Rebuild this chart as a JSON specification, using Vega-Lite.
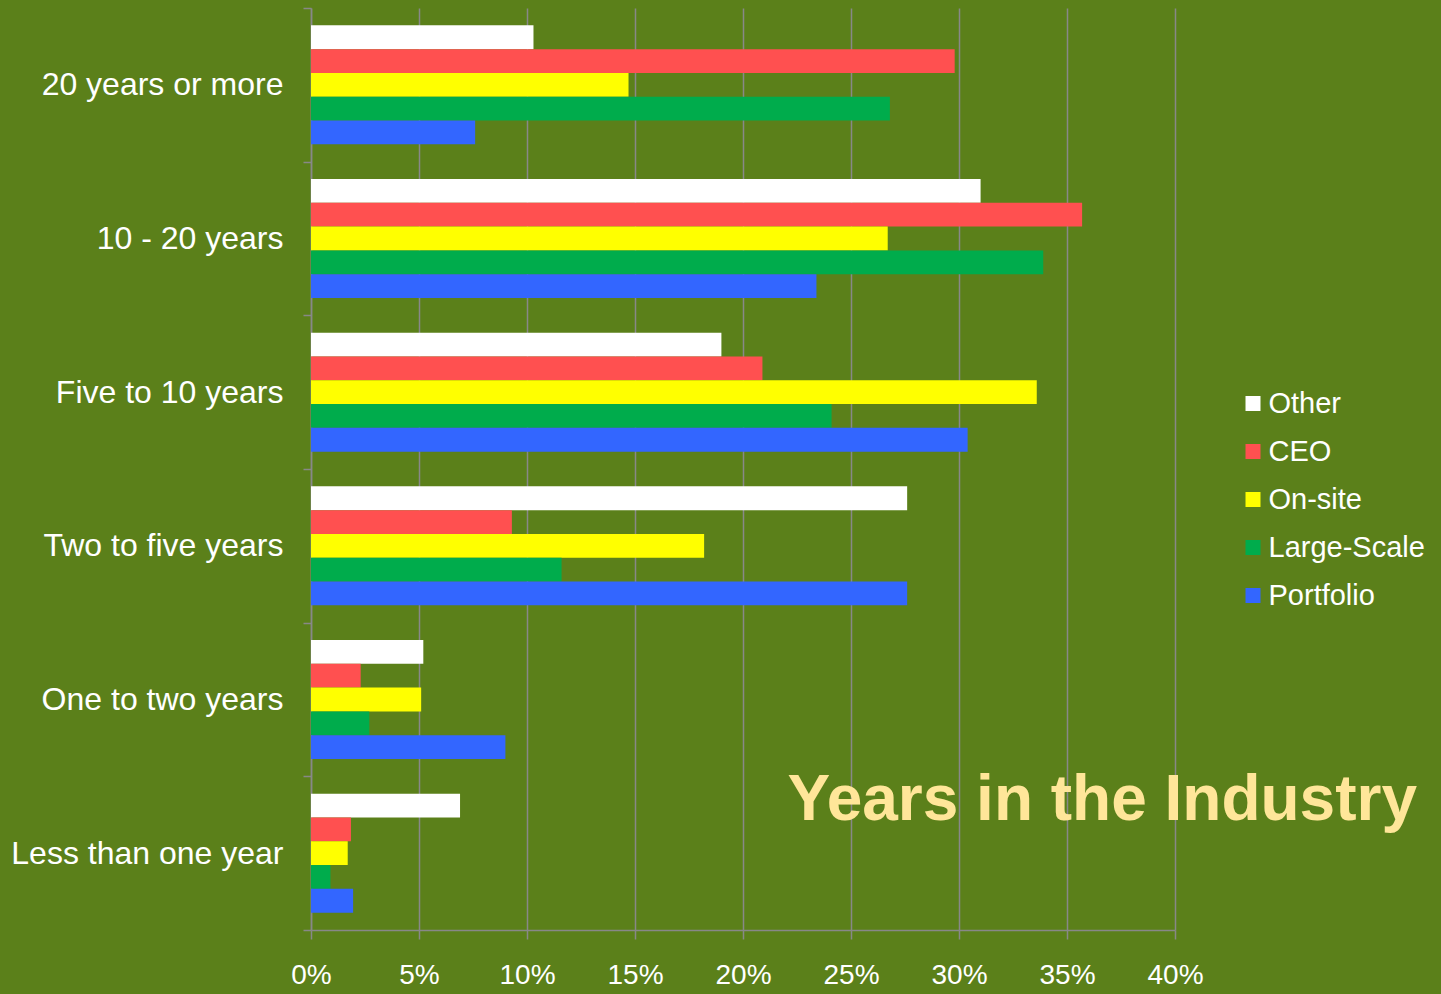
{
  "$schema": "https://vega.github.io/schema/vega-lite/v6.json",
  "width": 864,
  "height": 922,
  "autosize": {"type": "none"},
  "padding": {"left": 311, "top": 8, "right": 266, "bottom": 64},
  "background": "#5B801A",
  "config": {"view": {"stroke": null}, "font": "Liberation Sans"},
  "title": {
    "text": "Years in the Industry",
    "orient": "top",
    "anchor": "end",
    "frame": "group",
    "font": "Liberation Sans",
    "fontSize": 64,
    "fontWeight": "bold",
    "color": "#FFE699",
    "baseline": "alphabetic",
    "offset": 0,
    "dx": 242,
    "dy": 892
  },
  "data": {
    "values": [
      {"tenure": "20 years or more", "role": "Other", "share": 0.103},
      {"tenure": "20 years or more", "role": "CEO", "share": 0.298},
      {"tenure": "20 years or more", "role": "On-site", "share": 0.147},
      {"tenure": "20 years or more", "role": "Large-Scale", "share": 0.268},
      {"tenure": "20 years or more", "role": "Portfolio", "share": 0.076},
      {"tenure": "10 - 20 years", "role": "Other", "share": 0.310},
      {"tenure": "10 - 20 years", "role": "CEO", "share": 0.357},
      {"tenure": "10 - 20 years", "role": "On-site", "share": 0.267},
      {"tenure": "10 - 20 years", "role": "Large-Scale", "share": 0.339},
      {"tenure": "10 - 20 years", "role": "Portfolio", "share": 0.234},
      {"tenure": "Five to 10 years", "role": "Other", "share": 0.190},
      {"tenure": "Five to 10 years", "role": "CEO", "share": 0.209},
      {"tenure": "Five to 10 years", "role": "On-site", "share": 0.336},
      {"tenure": "Five to 10 years", "role": "Large-Scale", "share": 0.241},
      {"tenure": "Five to 10 years", "role": "Portfolio", "share": 0.304},
      {"tenure": "Two to five years", "role": "Other", "share": 0.276},
      {"tenure": "Two to five years", "role": "CEO", "share": 0.093},
      {"tenure": "Two to five years", "role": "On-site", "share": 0.182},
      {"tenure": "Two to five years", "role": "Large-Scale", "share": 0.116},
      {"tenure": "Two to five years", "role": "Portfolio", "share": 0.276},
      {"tenure": "One to two years", "role": "Other", "share": 0.052},
      {"tenure": "One to two years", "role": "CEO", "share": 0.023},
      {"tenure": "One to two years", "role": "On-site", "share": 0.051},
      {"tenure": "One to two years", "role": "Large-Scale", "share": 0.027},
      {"tenure": "One to two years", "role": "Portfolio", "share": 0.090},
      {"tenure": "Less than one year", "role": "Other", "share": 0.069},
      {"tenure": "Less than one year", "role": "CEO", "share": 0.0185},
      {"tenure": "Less than one year", "role": "On-site", "share": 0.017},
      {"tenure": "Less than one year", "role": "Large-Scale", "share": 0.009},
      {"tenure": "Less than one year", "role": "Portfolio", "share": 0.0195}
    ]
  },
  "mark": {"type": "bar"},
  "encoding": {
    "y": {
      "field": "tenure",
      "type": "nominal",
      "sort": ["20 years or more", "10 - 20 years", "Five to 10 years", "Two to five years", "One to two years", "Less than one year"],
      "scale": {"paddingInner": 0, "paddingOuter": 0},
      "axis": {
        "title": null,
        "tickBand": "extent",
        "grid": false,
        "domainColor": "#888888",
        "domainWidth": 1.5,
        "tickColor": "#888888",
        "tickWidth": 1.5,
        "tickSize": 8,
        "labelColor": "white",
        "labelFont": "Liberation Sans",
        "labelFontSize": 32,
        "labelPadding": 20,
        "labelOffset": 0,
        "labelLimit": 400
      }
    },
    "yOffset": {
      "field": "role",
      "type": "nominal",
      "sort": ["Other", "CEO", "On-site", "Large-Scale", "Portfolio"],
      "scale": {"paddingInner": 0, "paddingOuter": 0.7285}
    },
    "x": {
      "field": "share",
      "type": "quantitative",
      "scale": {"domain": [0, 0.4]},
      "axis": {
        "title": null,
        "format": ".0%",
        "values": [0, 0.05, 0.1, 0.15, 0.2, 0.25, 0.3, 0.35, 0.4],
        "labelFlush": false,
        "grid": true,
        "gridColor": "#888888",
        "gridWidth": 1.5,
        "domainColor": "#888888",
        "domainWidth": 1.5,
        "tickColor": "#888888",
        "tickWidth": 1.5,
        "tickSize": 9,
        "labelColor": "white",
        "labelFont": "Liberation Sans",
        "labelFontSize": 28,
        "labelPadding": 22
      }
    },
    "color": {
      "field": "role",
      "type": "nominal",
      "scale": {
        "domain": ["Other", "CEO", "On-site", "Large-Scale", "Portfolio"],
        "range": ["#FFFFFF", "#FF5050", "#FFFF00", "#00AC4C", "#3366FF"]
      },
      "legend": {
        "title": null,
        "orient": "none",
        "legendX": 927.5,
        "legendY": 381,
        "padding": 0,
        "symbolType": "square",
        "symbolSize": 225,
        "symbolStrokeWidth": 0,
        "symbolOpacity": 1,
        "labelColor": "white",
        "labelFont": "Liberation Sans",
        "labelFontSize": 29,
        "labelOffset": 1,
        "rowPadding": 18
      }
    }
  }
}
